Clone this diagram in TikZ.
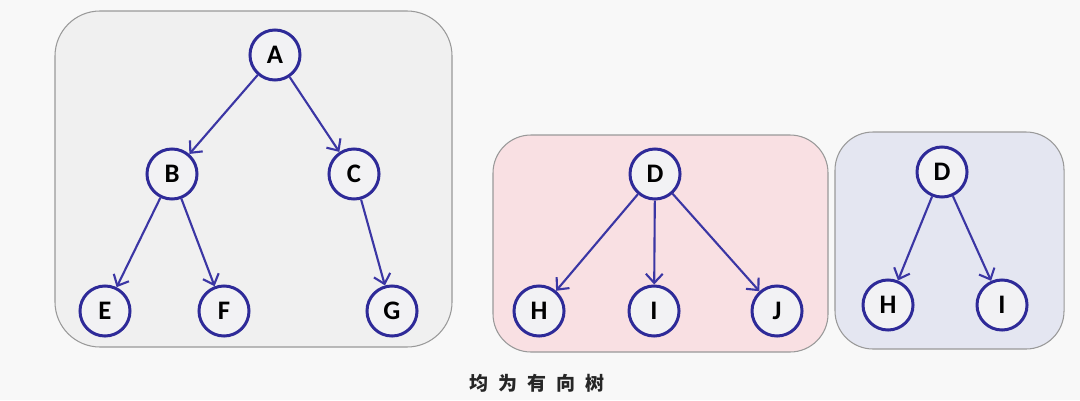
\documentclass[tikz,border=0pt]{standalone}
\usepackage{fontspec}
\setsansfont{Carlito}
\newfontfamily\cjk{Noto Sans CJK SC}
\usetikzlibrary{arrows.meta}

\definecolor{pagebg}{HTML}{F8F8F8}
\definecolor{treeblue}{HTML}{2E2A98}
\definecolor{edgeblue}{HTML}{3B36A4}
\definecolor{nodefill}{HTML}{F2F2F4}
\definecolor{greypanel}{HTML}{F0F0F0}
\definecolor{pinkpanel}{HTML}{F9E0E3}
\definecolor{bluepanel}{HTML}{E4E6F1}

\tikzset{
  vert/.style={circle, draw=treeblue, line width=0.85pt, fill=nodefill, minimum size=0.5cm, inner sep=0pt,
    font=\sffamily\bfseries\fontsize{7.6}{8}\selectfont},
  edge/.style={draw=edgeblue, line width=0.6pt, -{Straight Barb[length=2.6pt,width=4.8pt]}},
  panel/.style={draw=black!40, line width=0.3pt, rounded corners=0.45cm}
}

\begin{document}
\begin{tikzpicture}[x=0.01cm, y=-0.01cm]
	\useasboundingbox (0,0) rectangle (1080,400);
	\fill[pagebg] (0,0) rectangle (1080,400);

	% panels
	\draw[panel, fill=greypanel] (55,11) rectangle (452,347);
	\draw[panel, fill=pinkpanel, rounded corners=0.38cm] (493,135) rectangle (828,352);
	\draw[panel, fill=bluepanel, rounded corners=0.38cm] (835,132) rectangle (1064,349);

	% first tree
	\node[vert] (A) at (275,55) {A};
	\node[vert] (B) at (172,174) {B};
	\node[vert] (C) at (354,174) {C};
	\node[vert] (E) at (105,311) {E};
	\node[vert] (F) at (224,311) {F};
	\node[vert] (G) at (392,311) {G};
	\draw[edge] (A) -- (B);
	\draw[edge] (A) -- (C);
	\draw[edge] (B) -- (E);
	\draw[edge] (B) -- (F);
	\draw[edge] (C) -- (G);

	% second tree
	\node[vert] (D1) at (655,174) {D};
	\node[vert] (H1) at (539,311) {H};
	\node[vert] (I1) at (654,311) {I};
	\node[vert] (J1) at (777,311) {J};
	\draw[edge] (D1) -- (H1);
	\draw[edge] (D1) -- (I1);
	\draw[edge] (D1) -- (J1);

	% third tree
	\node[vert] (D2) at (942,172) {D};
	\node[vert] (H2) at (888,305) {H};
	\node[vert] (I2) at (1002,305) {I};
	\draw[edge] (D2) -- (H2);
	\draw[edge] (D2) -- (I2);

	\node[font=\cjk\bfseries\fontsize{5.4}{6}\selectfont, text=black!85] (caption) at (537,383)
		{均\hspace{2.8pt}为\hspace{2.8pt}有\hspace{2.8pt}向\hspace{2.8pt}树};
\end{tikzpicture}
\end{document}
